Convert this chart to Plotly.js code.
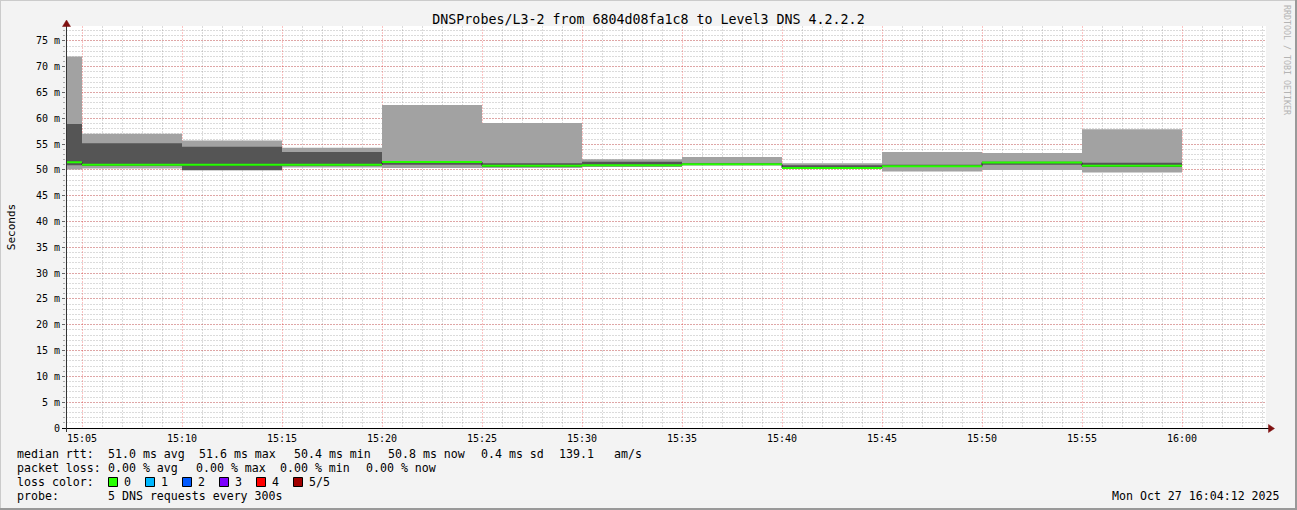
<!DOCTYPE html>
<html><head><meta charset="utf-8">
<script src="https://cdn.plot.ly/plotly-3.0.1.min.js"></script>
<style>html,body{margin:0;padding:0;background:#f3f3f3}#chart{width:1297px;height:510px}</style>
</head><body><div id="chart"></div>
<script>
// ---------------- data ----------------
const chartTitle = 'DNSProbes/L3-2 from 6804d08fa1c8 to Level3 DNS 4.2.2.2';
const yAxisTitle = 'Seconds';
const intervalEnds = ['15:05','15:10','15:15','15:20','15:25','15:30','15:35','15:40','15:45','15:50','15:55','16:00'];
const stepSeconds = 300;
const viewStart = '15:04:12';
const viewEnd = '16:04:12';
// five sorted pings per interval (ms); ping3 = median
const ping1  = [50.1, 50.3, 49.9, 50.5, 50.4, 50.4, 50.6, 50.9, 50.2, 49.7, 50.0, 49.5];
const ping2  = [50.9, 50.8, 50.0, 50.8, 51.0, 50.6, 50.7, 50.9, 50.2, 50.6, 51.0, 50.6];
const median = [51.5, 51.0, 51.0, 51.0, 51.55, 50.8, 50.9, 51.1, 50.4, 50.7, 51.45, 50.8];
const ping4  = [58.9, 55.2, 54.5, 53.5, 51.75, 51.3, 51.6, 51.3, 50.9, 51.0, 51.6, 51.4];
const ping5  = [72.0, 57.0, 55.7, 54.3, 62.6, 59.1, 52.1, 52.5, 51.3, 53.5, 53.3, 57.9];
const yTickVals = [0,5,10,15,20,25,30,35,40,45,50,55,60,65,70,75];
const yTickText = ['0','5 m','10 m','15 m','20 m','25 m','30 m','35 m','40 m','45 m','50 m','55 m','60 m','65 m','70 m','75 m'];
const rttFields  = ['median rtt:', '51.0 ms avg', '51.6 ms max', '50.4 ms min', '50.8 ms now', '0.4 ms sd', '139.1', 'am/s'];
const lossFields = ['packet loss:', '0.00 % avg', '0.00 % max', '0.00 % min', '0.00 % now'];
const lossHeader = 'loss color:';
const probeFields = ['probe:', '5 DNS requests every 300s'];
const lossLabels = ['0','1','2','3','4','5/5'];
const lossColors = ['#26ff00','#00b8ff','#0059ff','#7e00ff','#ff0000','#a10000'];
const stampText = 'Mon Oct 27 16:04:12 2025';
const creditText = 'RRDTOOL / TOBI OETIKER';

// ---------------- layout helpers ----------------
function t(hms){ const p = hms.split(':').map(Number); return Date.UTC(2025,9,27,p[0],p[1],p[2]||0); }
const W = 1297, H = 510, L = 66, R = 1266, T = 26, B = 428;
function px(x){ return (x-L)/(R-L); }
function py(y){ return (B-y)/(B-T); }
function nb(s){ return s.replace(/ /g,'\u00a0'); }

const ends = intervalEnds.map(t);
const starts = ends.map(e => e - stepSeconds*1000);
const stepX = starts.concat([ends[ends.length-1]]);
function stepY(arr){ return arr.concat([arr[arr.length-1]]); }

const mono = 'DejaVu Sans Mono';
const LIGHT = '#a2a2a2', DARK = '#555555', GREEN = lossColors[0];

const traces = [
  {x: stepX, y: stepY(ping1), mode:'lines', line:{shape:'hv', width:0, color:LIGHT}, hoverinfo:'skip', showlegend:false},
  {x: stepX, y: stepY(ping5), mode:'lines', line:{shape:'hv', width:0, color:LIGHT}, fill:'tonexty', fillcolor:LIGHT, hoverinfo:'skip', showlegend:false},
  {x: stepX, y: stepY(ping2), mode:'lines', line:{shape:'hv', width:0, color:DARK}, hoverinfo:'skip', showlegend:false},
  {x: stepX, y: stepY(ping4), mode:'lines', line:{shape:'hv', width:0, color:DARK}, fill:'tonexty', fillcolor:DARK, hoverinfo:'skip', showlegend:false},
  {x: stepX, y: stepY(median), mode:'lines', line:{shape:'hv', width:1, color:'#222222'}, hoverinfo:'skip', showlegend:false}
];
const gx = [], gy = [];
median.forEach((v,i) => { gx.push(starts[i], ends[i], null); gy.push(v, v, null); });
traces.push({x: gx, y: gy, mode:'lines', line:{width:2, color:GREEN}, connectgaps:false, hoverinfo:'skip', showlegend:false});

const majorGrid = 'rgba(240,0,0,0.24)';
const minorGrid = 'rgba(143,143,143,0.32)';

const shapes = [
  {type:'line', xref:'paper', yref:'paper', x0:px(0), x1:px(W), y0:py(0.5), y1:py(0.5), line:{color:'#cbcbcb', width:1}},
  {type:'line', xref:'paper', yref:'paper', x0:px(0.5), x1:px(0.5), y0:py(0), y1:py(H), line:{color:'#cbcbcb', width:1}},
  {type:'line', xref:'paper', yref:'paper', x0:px(W-1), x1:px(W-1), y0:py(0), y1:py(H), line:{color:'#999999', width:2}},
  {type:'line', xref:'paper', yref:'paper', x0:px(0), x1:px(W), y0:py(H-1), y1:py(H-1), line:{color:'#999999', width:2}},
  {type:'line', xref:'paper', yref:'paper', x0:px(62), x1:px(1270), y0:py(428.5), y1:py(428.5), line:{color:'#000000', width:1}},
  {type:'line', xref:'paper', yref:'paper', x0:px(66.5), x1:px(66.5), y0:py(432), y1:py(24), line:{color:'#333333', width:1}},
  {type:'path', xref:'paper', yref:'paper', path:`M ${px(66.5)},${py(20)} L ${px(62.5)},${py(26.5)} L ${px(70.5)},${py(26.5)} Z`, fillcolor:'#7f1010', line:{color:'#7f1010', width:0.5}},
  {type:'path', xref:'paper', yref:'paper', path:`M ${px(1274.5)},${py(428.5)} L ${px(1268.5)},${py(424.5)} L ${px(1268.5)},${py(432.5)} Z`, fillcolor:'#7f1010', line:{color:'#7f1010', width:0.5}}
];

const annotations = [];
const lineY = [454, 468, 482, 496];
const fontL = {family:mono, size:11.6, color:'#000'};
function addText(s, x, y, anchor){ annotations.push({xref:'paper', yref:'paper', x:px(x), y:py(y), xanchor:anchor||'left', yanchor:'middle', showarrow:false, text:nb(s), font:fontL}); }
const rttX = [15, 106, 197, 292, 386, 479, 557, 612];
rttFields.forEach((s,i) => addText(s, rttX[i], lineY[0]));
const lossX = [15, 106, 194, 278, 364];
lossFields.forEach((s,i) => addText(s, lossX[i], lineY[1]));
addText(lossHeader, 15, lineY[2]);
lossLabels.forEach((lab,i) => {
  const bx = 108 + i*37;
  shapes.push({type:'rect', xref:'paper', yref:'paper', x0:px(bx+0.5), x1:px(bx+9.5), y0:py(477.5), y1:py(486.5), fillcolor:lossColors[i], line:{color:'#000', width:1}});
  addText(lab, bx+14, lineY[2]);
});
const probeX = [15, 106];
probeFields.forEach((s,i) => addText(s, probeX[i], lineY[3]));
addText(stampText, 1282, lineY[3], 'right');
annotations.push({xref:'paper', yref:'paper', x:px(1287), y:py(60), xanchor:'center', yanchor:'middle', showarrow:false, textangle:90, text:nb(creditText), font:{family:mono, size:8.3, color:'#b4b4b4'}});

const layout = {
  width: W, height: H,
  margin: {l: L, r: W-R, t: T, b: H-B, pad: 0},
  paper_bgcolor: '#f3f3f3', plot_bgcolor: '#ffffff',
  showlegend: false,
  title: {text: chartTitle, font:{family: mono, size: 13.3, color:'#000'}, x: 0.5, xref:'container', xanchor:'center', y: 1-19/H, yref:'container', yanchor:'middle'},
  xaxis: {
    type:'date', range:[t(viewStart), t(viewEnd)], dtick: stepSeconds*1000, tickformat:'%H:%M',
    showgrid:true, gridcolor: majorGrid, griddash:'2px,1px', gridwidth:1,
    minor:{dtick:60000, showgrid:true, gridcolor: minorGrid, griddash:'2px,1px', gridwidth:1},
    ticks:'', showline:false, zeroline:false, ticklabelstandoff: 3,
    tickfont:{family: mono, size: 10, color:'#000'}, fixedrange:true
  },
  yaxis: {
    range:[0, 77.9], tickvals: yTickVals, ticktext: yTickText,
    showgrid:true, gridcolor: majorGrid, griddash:'2px,1px', gridwidth:1,
    minor:{dtick:1, showgrid:true, gridcolor: minorGrid, griddash:'2px,1px', gridwidth:1, ticks:'outside', ticklen:2, tickcolor:'#aaaaaa'},
    ticks:'outside', ticklen:3, tickcolor:'#666666', showline:false, zeroline:false,
    tickfont:{family: mono, size: 10, color:'#000'},
    title:{text: yAxisTitle, font:{family: mono, size: 11, color:'#000'}, standoff: 18},
    fixedrange:true
  },
  shapes: shapes,
  annotations: annotations
};

Plotly.newPlot('chart', traces, layout, {staticPlot:true, displayModeBar:false});
</script>
</body></html>
